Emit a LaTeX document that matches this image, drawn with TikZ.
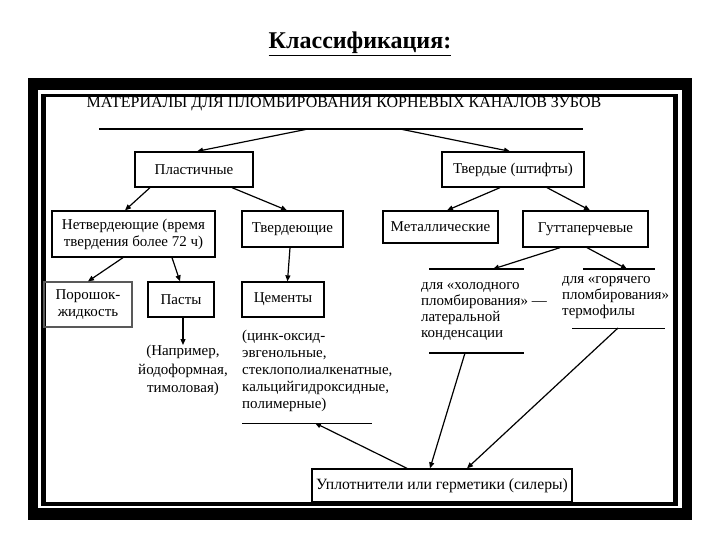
\documentclass[tikz,border=0pt]{standalone}
\usepackage{fontspec}
\setmainfont{Liberation Serif}
\usetikzlibrary{arrows.meta,positioning}

\begin{document}
\begin{tikzpicture}[
  x=1pt,y=-1pt,
  font=\fontsize{15}{17}\selectfont,
  box/.style={draw,line width=1.3pt,align=center,inner sep=0pt},
  txt/.style={align=left,inner sep=0pt},
  arr/.style={-{Triangle[length=6pt,width=5pt]},line width=1.2pt},
  bar/.style={line width=1.5pt}
]
\useasboundingbox (0,0) rectangle (720,540);
% double frame
\fill (28,78) rectangle (692,520);
\fill[white] (38,90) rectangle (682,508);
\fill (41,94) rectangle (678,506);
\fill[white] (46,97) rectangle (673,502);

\node[font=\fontsize{24}{28}\selectfont\bfseries] (title) at (360,44) {\underline{Классификация:}};
\node[font=\fontsize{16}{18}\selectfont,inner sep=0pt] (head) at (344,104) {МАТЕРИАЛЫ ДЛЯ ПЛОМБИРОВАНИЯ КОРНЕВЫХ КАНАЛОВ ЗУБОВ};

% top bar
\coordinate (topbar-w) at (99,129);
\coordinate (topbar-e) at (583,129);
\coordinate (topbar-a) at (308,129);
\coordinate (topbar-b) at (400,129);
\draw[bar] (topbar-w) -- (topbar-e);

% boxes
\node[box,minimum width=118pt,minimum height=35pt] (plast) at (194,169.5) {Пластичные};
\node[box,minimum width=142pt,minimum height=35pt] (solid) at (513,169.5) {Твердые (штифты)};
\node[box,minimum width=163pt,minimum height=46pt] (nonset) at (133.5,234) {Нетвердеющие (время\\твердения более 72 ч)};
\node[box,minimum width=101pt,minimum height=36pt] (setting) at (292.5,229) {Твердеющие};
\node[box,minimum width=115pt,minimum height=32pt] (metal) at (440.5,227) {Металлические};
\node[box,minimum width=125pt,minimum height=36pt] (gutta) at (585.5,229) {Гуттаперчевые};
\node[box,draw=black!65,minimum width=88pt,minimum height=45pt] (powder) at (88,304.5) {Порошок-\\жидкость};
\node[box,minimum width=66pt,minimum height=35pt] (paste) at (181,299.5) {Пасты};
\node[box,minimum width=82pt,minimum height=35pt] (cement) at (283,299.5) {Цементы};
\node[box,font=\fontsize{15.7}{18}\selectfont,minimum width=260pt,minimum height=33pt] (sealer) at (442,485.5) {Уплотнители или герметики (силеры)};

% free texts
\node[txt,align=center,anchor=north,font=\fontsize{15}{18.5}\selectfont] (examples) at (183,345) {(Например,\\йодоформная,\\тимоловая)};
\node[txt,anchor=north west] (cemlist) at (242,330) {(цинк-оксид-\\эвгенольные,\\стеклополиалкенатные,\\кальцийгидроксидные,\\полимерные)};
\node[txt,anchor=north west,font=\fontsize{15}{16.2}\selectfont] (cold) at (421,282) {для «холодного\\пломбирования» —\\латеральной\\конденсации};
\node[txt,anchor=north west,font=\fontsize{15}{16.3}\selectfont] (hot) at (562,276) {для «горячего\\пломбирования» -\\термофилы};

% bars round the texts
\coordinate (cembar-w) at (242,423);
\coordinate (cembar-e) at (372,423);
\coordinate (cembar-a) at (315,423);
\coordinate (coldtop-w) at (429,269);
\coordinate (coldtop-e) at (524,269);
\coordinate (coldtop-a) at (493,269);
\coordinate (coldbot-w) at (429,353);
\coordinate (coldbot-e) at (524,353);
\coordinate (coldbot-a) at (465,353);
\coordinate (hottop-w) at (583,269);
\coordinate (hottop-e) at (655,269);
\coordinate (hottop-a) at (627,269);
\coordinate (hotbot-w) at (572,328);
\coordinate (hotbot-e) at (665,328);
\coordinate (hotbot-a) at (618,328);
\draw[line width=1pt] (cembar-w) -- (cembar-e);
\draw[bar] (coldtop-w) -- (coldtop-e);
\draw[bar] (coldbot-w) -- (coldbot-e);
\draw[bar] (hottop-w) -- (hottop-e);
\draw[line width=1pt] (hotbot-w) -- (hotbot-e);

% arrows
\draw[arr] (topbar-a) -- ([xshift=3pt]plast.north);
\draw[arr] (topbar-b) -- ([xshift=-3pt]solid.north);
\draw[arr] ([xshift=-44pt]plast.south) -- ([xshift=-8.5pt]nonset.north);
\draw[arr] ([xshift=38pt]plast.south) -- ([xshift=-5.5pt]setting.north);
\draw[arr] ([xshift=-13pt]solid.south) -- ([xshift=6.5pt]metal.north);
\draw[arr] ([xshift=34pt]solid.south) -- ([xshift=4.5pt]gutta.north);
\draw[arr] ([xshift=-10.5pt]nonset.south) -- (powder.north);
\draw[arr] ([xshift=38.5pt]nonset.south) -- ([xshift=-1pt]paste.north);
\draw[arr] ([xshift=-2.5pt]setting.south) -- ([xshift=4.5pt]cement.north);
\draw[arr] ([xshift=2pt]paste.south) -- (examples.north);
\draw[arr] ([xshift=-25.5pt]gutta.south) -- (coldtop-a);
\draw[arr] ([xshift=1.5pt]gutta.south) -- (hottop-a);
\draw[arr] ([xshift=-35pt]sealer.north) -- (cembar-a);
\draw[arr] (coldbot-a) -- ([xshift=-12pt]sealer.north);
\draw[arr] (hotbot-a) -- ([xshift=25pt]sealer.north);
\end{tikzpicture}
\end{document}
